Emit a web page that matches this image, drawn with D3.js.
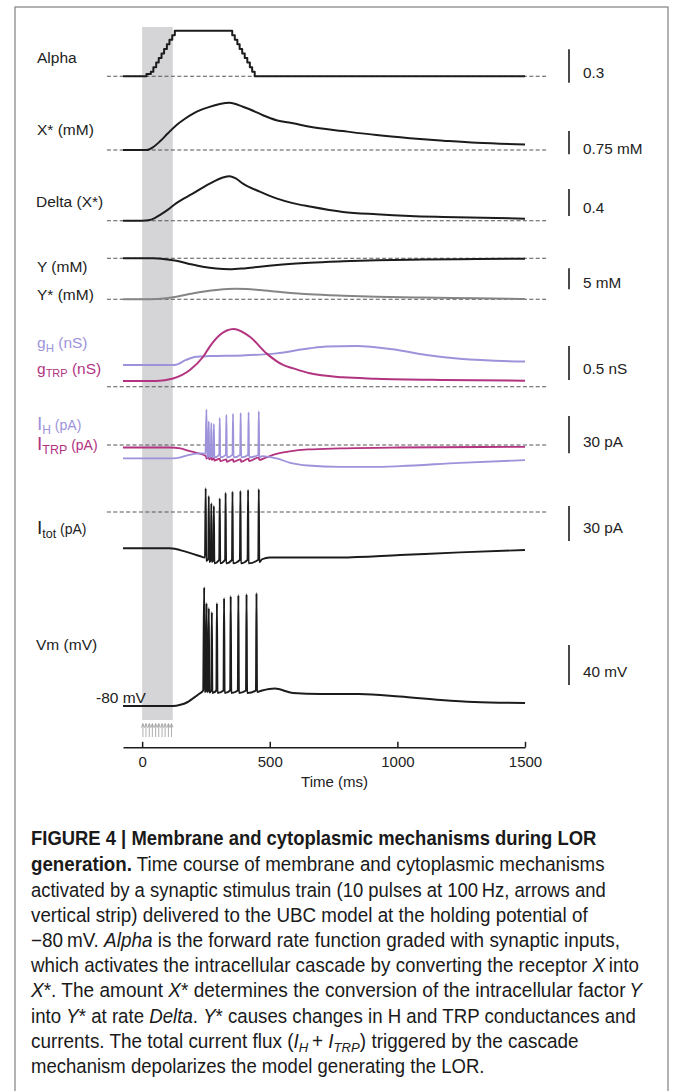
<!DOCTYPE html>
<html><head><meta charset="utf-8">
<script src="https://cdn.jsdelivr.net/npm/d3@7"></script>
<style>body{margin:0;background:#fff}svg{display:block}</style>
</head><body>
<svg id="c" width="673" height="1091"></svg>
<script>
// ---------------- DATA ----------------
const timeTicks = [0, 500, 1000, 1500];
const stimStrip = [0, 120];
const stimTimes = [3, 15, 28, 40, 53, 65, 78, 90, 103, 115];

const alphaData = [[-75,0],[0,0],[17,0.02],[34,0.041],[44,0.082],[55,0.123],[65,0.164],[76,0.205],[86,0.246],[97,0.287],[107,0.328],[118,0.369],[128,0.41],[343,0.41],[353,0.369],[363,0.328],[373,0.287],[382,0.246],[392,0.205],[402,0.164],[412,0.123],[422,0.082],[431,0.041],[441,0],[1500,0]];
const xStarData = [[-75,0],[16,0],[42,0.087],[69,0.27],[100,0.53],[134,0.80],[165,0.99],[198,1.16],[230,1.29],[265,1.39],[304,1.48],[343,1.52],[395,1.39],[421,1.31],[470,1.13],[526,0.96],[591,0.86],[657,0.75],[787,0.61],[918,0.48],[1049,0.38],[1180,0.30],[1311,0.23],[1500,0.18]];
const deltaData = [[-75,0],[0,0],[30,0.01],[69,0.084],[100,0.16],[134,0.26],[198,0.40],[265,0.55],[316,0.64],[343,0.66],[365,0.63],[395,0.55],[461,0.43],[526,0.33],[590,0.26],[657,0.21],[787,0.13],[918,0.095],[1049,0.07],[1180,0.055],[1500,0.03]];
const yData = [[-75,0],[41,0],[90,-0.2],[134,-0.57],[190,-1.4],[237,-2.0],[290,-2.45],[343,-2.62],[400,-2.4],[461,-2.0],[550,-1.5],[657,-1.05],[787,-0.72],[918,-0.48],[1100,-0.3],[1311,-0.17],[1500,-0.1]];
const yStarData = [[-75,0],[0,0],[60,0.1],[134,0.62],[190,1.3],[237,1.81],[300,2.3],[363,2.52],[410,2.45],[461,2.21],[550,1.7],[657,1.19],[787,0.85],[918,0.62],[1100,0.4],[1311,0.24],[1500,0.07]];
const gHData = [[-75,0.32],[127,0.32],[170,0.39],[212,0.44],[265,0.45],[395,0.46],[526,0.49],[657,0.565],[722,0.59],[840,0.6],[983,0.55],[1114,0.466],[1244,0.41],[1500,0.37]];
const gTRPData = [[-75,0.084],[56,0.084],[121,0.12],[187,0.245],[239,0.44],[265,0.59],[304,0.76],[359,0.85],[422,0.735],[487,0.49],[552,0.32],[592,0.27],[657,0.197],[787,0.138],[918,0.118],[1179,0.099],[1500,0.088]];
const iTRPData = [[-75,-2],[110,-2],[150,-2.8],[180,-4.5],[225,-7],[250,-9],[252,-11],[261,-9.5],[263,-11.5],[271,-10],[273,-12],[281,-10.5],[283,-12.5],[304,-11],[306,-13],[330,-11.5],[332,-13.5],[356,-11.5],[358,-13.5],[386,-11.5],[388,-13.5],[417,-11],[419,-13],[457,-10],[459,-12],[480,-10.5],[530,-7],[578,-5.2],[650,-3.6],[775,-2.7],[1000,-2],[1500,-1.5]];
const iHData = [[-75,-10.7],[120,-10.7],[150,-10],[180,-8.1],[225,-6.7],[248,-7],[252,28.4],[254,-10],[259,-8],[261,19],[263,-10],[269,-8],[271,17.6],[273,-10],[279,-8],[281,16.8],[283,-10],[302,-8],[304,21.7],[306,-10],[328,-8],[330,24.3],[332,-10],[354,-8],[356,25.1],[358,-10],[384,-8],[386,25.7],[388,-10],[415,-8],[417,26.2],[419,-10],[455,-8],[457,27],[459,-10],[470,-9],[530,-11],[580,-14.3],[650,-16.5],[775,-17.6],[900,-17.6],[1010,-17],[1245,-14.3],[1500,-12.2]];
const iTotData = [[-75,-31.1],[108,-31.1],[170,-34],[225,-37.7],[246,-39],[249,20.3],[251,-42],[259,-40],[261,13.7],[263,-43],[269,-41],[271,7.5],[273,-43],[279,-41],[281,5.1],[283,-44],[302,-41],[304,11.7],[306,-44],[325,-41],[327,16.5],[329,-44],[352,-41],[354,17.4],[356,-44],[383,-41],[385,18],[387,-44],[413,-41],[415,18.9],[417,-44],[455,-41],[457,19.5],[459,-43],[470,-40.5],[500,-39],[600,-39],[775,-39],[1010,-36.9],[1245,-34.6],[1500,-32.6]];
const vmData = [[-75,-80],[120,-80],[150,-78.8],[175,-76.5],[200,-72.2],[225,-67.5],[239,-64.5],[243,38.7],[245,-66],[250,-64.5],[252,23],[254,-66],[259,-64.5],[261,18],[263,-66.5],[271,-64.5],[273,14],[275,-67],[291,-64.5],[293,23],[295,-67],[319,-64.5],[321,28],[323,-67],[345,-64.5],[347,30],[349,-67],[375,-64.5],[377,31],[379,-67],[407,-64.5],[409,32],[411,-67],[446,-64.5],[448,33],[450,-66],[470,-64.5],[520,-62.5],[590,-67],[700,-68],[850,-68],[1010,-70.5],[1170,-74],[1300,-76],[1500,-77]];

const scaleBarValues = {alpha:0.3, xstar:0.75, delta:0.4, y:5, g:0.5, cur:30, itot:30, vm:40};
const scaleBarLabels = {alpha:"0.3", xstar:"0.75 mM", delta:"0.4", y:"5 mM", g:"0.5 nS", cur:"30 pA", itot:"30 pA", vm:"40 mV"};

// ---------------- LAYOUT ----------------
const BLACK = "#1c1c1c", LAV = "#9d93da", MAG = "#b2337f", GREY = "#858585", TXT = "#222";
const FONT = "'Liberation Sans', Arial, Helvetica, sans-serif";
const svg = d3.select("#c");
const x = d3.scaleLinear().domain([-75, 1500]).range([123, 525]);
const lin = (base, unit, px) => d3.scaleLinear().domain([0, unit]).range([base, base - px]);

const P = {
  alpha: {y: lin(76.3, 0.3, 33.4), barBottom: 82.7, textY: 78},
  xstar: {y: lin(150, 0.75, 23.3), barBottom: 154.3, textY: 154},
  delta: {y: lin(220.7, 0.4, 27), barBottom: 216, textY: 213},
  y:     {y: lin(258.3, 5, 21), barBottom: 289.3, textY: 288},
  ystar: {y: lin(299.3, 5, 21)},
  g:     {y: lin(386.7, 0.5, 34), barBottom: 380, textY: 374},
  cur:   {y: lin(445, 30, 37.3), barBottom: 453.3, textY: 446.5},
  itot:  {y: lin(512, 30, 35), barBottom: 541, textY: 532.5},
  vm:    {y: d3.scaleLinear().domain([-80, -40]).range([706, 666]), barBottom: 685, textY: 676.5}
};

// frame
svg.append("rect").attr("x", 15).attr("y", 7).attr("width", 653).attr("height", 1110)
  .attr("fill", "none").attr("stroke", "#8a8a8a").attr("stroke-width", 1.3);

// stimulus strip
svg.append("rect").attr("x", x(stimStrip[0])).attr("y", 27)
  .attr("width", x(stimStrip[1]) - x(stimStrip[0])).attr("height", 693)
  .attr("fill", "#d5d5d8");

// dashed baselines
["alpha","xstar","delta","y","ystar","g","cur","itot"].forEach(k => {
  const yy = P[k].y(0);
  svg.append("line").attr("x1", x(-138)).attr("x2", x(1586)).attr("y1", yy).attr("y2", yy)
    .attr("stroke", "#555").attr("stroke-width", 1.1).attr("stroke-dasharray", "4,2.4");
});

// traces
function trace(data, panel, color, curve, w) {
  const sc = P[panel].y;
  const gen = d3.line().x(d => x(d[0])).y(d => sc(d[1])).curve(curve || d3.curveMonotoneX);
  svg.append("path").datum(data).attr("d", gen).attr("fill", "none")
    .attr("stroke", color).attr("stroke-width", w || 2).attr("stroke-linejoin", "round");
}
trace(alphaData, "alpha", BLACK, d3.curveStepAfter);
trace(xStarData, "xstar", BLACK);
trace(deltaData, "delta", BLACK);
trace(yData, "y", BLACK);
trace(yStarData, "ystar", GREY);
trace(gHData, "g", LAV);
trace(gTRPData, "g", MAG);
trace(iTRPData, "cur", MAG, d3.curveMonotoneX, 1.8);
trace(iHData, "cur", LAV, d3.curveMonotoneX, 1.8);
trace(iTotData, "itot", BLACK, d3.curveMonotoneX, 1.9);
trace(vmData, "vm", BLACK, d3.curveMonotoneX, 2);

// scale bars
const BX = 569;
Object.keys(scaleBarValues).forEach(k => {
  const sc = P[k].y;
  const len = k === "vm" ? sc(-80) - sc(-80 + scaleBarValues[k]) : sc(0) - sc(scaleBarValues[k]);
  svg.append("line").attr("x1", BX).attr("x2", BX)
    .attr("y1", P[k].barBottom).attr("y2", P[k].barBottom - len)
    .attr("stroke", BLACK).attr("stroke-width", 1.6);
  svg.append("text").attr("x", 583).attr("y", P[k].textY).text(scaleBarLabels[k])
    .attr("font-family", FONT).attr("font-size", 15.3).attr("fill", TXT);
});

// left labels
function label(parts, xx, yy, color) {
  const t = svg.append("text").attr("x", xx).attr("y", yy).attr("fill", color)
    .attr("font-family", FONT).attr("font-size", 15.5);
  parts.forEach(p => {
    const s = t.append("tspan").text(p[0]);
    if (p[1]) s.attr("font-size", p[1]);
    if (p[2]) s.attr("dy", p[2]);
  });
}
label([["Alpha"]], 37, 62.5, TXT);
label([["X* (mM)"]], 37, 134.5, TXT);
label([["Delta (X*)"]], 36, 206.5, TXT);
label([["Y (mM)"]], 37, 272, TXT);
label([["Y* (mM)"]], 37, 300, TXT);
label([["g"],["H",11.5,4],[" (nS)",15.5,-4]], 37, 348.3, LAV);
label([["g"],["TRP",11,3],[" (nS)",15.5,-3]], 37, 374, MAG);
label([["I",19],["H",12,4],[" (pA)",14,-4]], 37, 429.5, LAV);
label([["I",19],["TRP",12.5,3.5],[" (pA)",14,-3.5]], 37, 450, MAG);
label([["I",19],["tot",12.5,4.5],[" (pA)",14,-4.5]], 37, 533.5, TXT);
label([["Vm (mV)"]], 36, 650, TXT);
label([["-80 mV"]], 96, 703, TXT);

// stimulus arrows
stimTimes.forEach(t => {
  const xx = x(t);
  svg.append("path")
    .attr("d", `M${xx},737 L${xx},724 M${xx-1.4},727.5 L${xx},723.5 L${xx+1.4},727.5`)
    .attr("fill", "none").attr("stroke", "#9a9a9a").attr("stroke-width", 0.8);
});

// time axis
const axis = d3.axisBottom(x).tickValues(timeTicks).tickFormat(d3.format("d"))
  .tickSize(-5.5).tickSizeOuter(0).tickPadding(9);
const ax = svg.append("g").attr("transform", "translate(0,747.3)").call(axis);
ax.select(".domain").attr("stroke", BLACK).attr("stroke-width", 1.5);
ax.selectAll(".tick line").attr("stroke", BLACK).attr("stroke-width", 1.5);
ax.selectAll(".tick text").attr("font-family", FONT).attr("font-size", 15).attr("fill", TXT);
svg.append("text").attr("x", 334.5).attr("y", 787).attr("text-anchor", "middle")
  .attr("font-family", FONT).attr("font-size", 15).attr("fill", TXT).text("Time (ms)");

// caption
const captionLines = [
  [["FIGURE 4 | Membrane and cytoplasmic mechanisms during LOR","b"]],
  [["generation.","b"],[" Time course of membrane and cytoplasmic mechanisms"]],
  [["activated by a synaptic stimulus train (10 pulses at 100\u2009Hz, arrows and"]],
  [["vertical strip) delivered to the UBC model at the holding potential of"]],
  [["\u221280\u2009mV. "],["Alpha","i"],[" is the forward rate function graded with synaptic inputs,"]],
  [["which activates the intracellular cascade by converting the receptor "],["X","i"],["\u2009into"]],
  [["X","i"],["*. The amount "],["X","i"],["* determines the conversion of the intracellular factor\u2009"],["Y","i"]],
  [["into "],["Y","i"],["* at rate "],["Delta","i"],[". "],["Y","i"],["* causes changes in H and TRP conductances and"]],
  [["currents. The total current flux ("],["I","i"],["H","s"],["\u2009+ ",null,"u"],["I","i"],["TRP","s"],[") triggered by the cascade",null,"u"]],
  [["mechanism depolarizes the model generating the LOR."]]
];
const captionWidths = [565.6, 574, 575.4, 557, 589, 609, 611.5, 605, 548, 454];
const captionBase = [845, 871, 896.5, 921.5, 946.5, 972, 997, 1022.5, 1047.5, 1072.5];
captionLines.forEach((line, i) => {
  const t = svg.append("text").attr("x", 0).attr("y", 0)
    .attr("font-family", FONT).attr("font-size", 19.5).attr("fill", "#1a1a1a");
  line.forEach(seg => {
    const s = t.append("tspan").text(seg[0]);
    if (seg[1] === "b") s.attr("font-weight", "bold");
    if (seg[1] === "i") s.attr("font-style", "italic");
    if (seg[1] === "s") s.attr("font-style", "italic").attr("font-size", 13.5).attr("dy", 4);
    if (seg[2] === "u") s.attr("dy", -4);
  });
  const natural = t.node().getComputedTextLength();
  const sx = captionWidths[i] / natural;
  t.attr("transform", `translate(31,${captionBase[i]}) scale(${sx},1)`);
});
</script>
</body></html>
